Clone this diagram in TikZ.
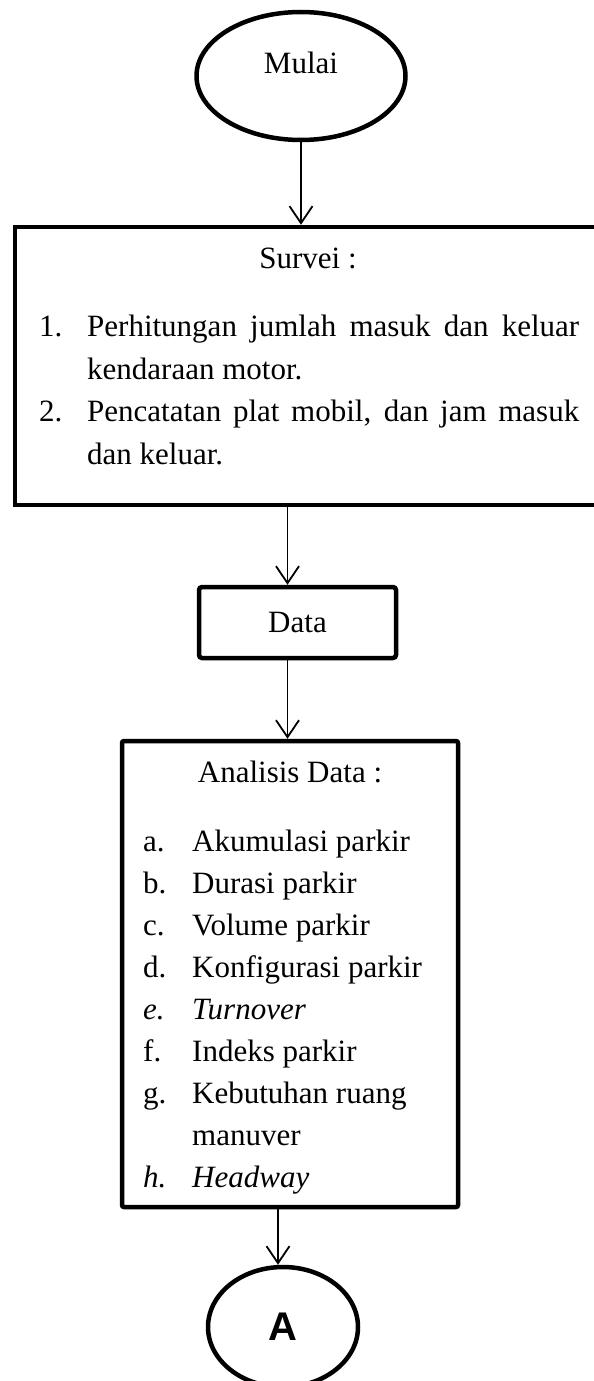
\documentclass[tikz,border=0pt]{standalone}
\usepackage{fontspec}
\setmainfont{Liberation Serif}
\setsansfont{Liberation Sans}
\usepackage{tikz}
\usetikzlibrary{shapes.geometric, arrows.meta, positioning}
\tikzstyle{startstop} = [ellipse, draw=black, line width=4.5pt, inner sep=0pt]
\tikzstyle{process}   = [rectangle, draw=black, line width=4.5pt, inner sep=0pt]
\tikzstyle{arrow}     = [line width=1.8pt, -{Straight Barb[length=17pt, width=23pt, line width=1.8pt]}]
\tikzstyle{title}     = [anchor=base, inner sep=0pt]
\tikzstyle{item}      = [anchor=base west, inner sep=0pt]
\tikzset{every node/.style={font=\fontsize{31pt}{42pt}\selectfont}}

\begin{document}
\begin{tikzpicture}[x=1pt, y=-1pt]
    \clip (0,0) rectangle (594,1381);
    \node (mul) at (301, 76)    [startstop, minimum width=209, minimum height=128, text depth=26pt] {Mulai};
    \node (svy) at (317.5, 366) [process, minimum width=605, minimum height=278] {};
    \node (dat) at (297.5, 622.5) [process, rounded corners=3pt, minimum width=197, minimum height=71] {Data};
    \node (ana) at (290, 974)   [process, rounded corners=2pt, minimum width=336, minimum height=466] {};
    \node (a)   at (283, 1327)  [startstop, minimum width=150, minimum height=120,
                                 font=\fontsize{40pt}{48pt}\selectfont\sffamily\bfseries] {A};

    % survey box text
    \node (svyt) at (308, 268) [title] {Survei :};
    \node (s1)  at (39, 336)  [item] {\makebox[48pt][l]{1.}\makebox[492pt][s]{Perhitungan jumlah masuk dan keluar}};
    \node (s1b) at (87, 379)  [item] {kendaraan motor.};
    \node (s2)  at (39, 421)  [item] {\makebox[48pt][l]{2.}\makebox[492pt][s]{Pencatatan plat mobil, dan jam masuk}};
    \node (s2b) at (87, 464)  [item] {dan keluar.};

    % analysis box text
    \node (anat) at (290, 782) [title] {Analisis Data :};
    \node (la)  at (143, 851)  [item] {\makebox[49pt][l]{a.}Akumulasi parkir};
    \node (lb)  at (143, 893)  [item] {\makebox[49pt][l]{b.}Durasi parkir};
    \node (lc)  at (143, 935)  [item] {\makebox[49pt][l]{c.}Volume parkir};
    \node (ld)  at (143, 977)  [item] {\makebox[49pt][l]{d.}Konfigurasi parkir};
    \node (le)  at (143, 1019) [item] {\itshape\makebox[49pt][l]{e.}Turnover};
    \node (lf)  at (143, 1061) [item] {\makebox[49pt][l]{f.}Indeks parkir};
    \node (lg)  at (143, 1103) [item] {\makebox[49pt][l]{g.}Kebutuhan ruang};
    \node (lgb) at (192, 1145) [item] {manuver};
    \node (lh)  at (143, 1187) [item] {\itshape\makebox[49pt][l]{h.}Headway};

    \draw [arrow] (mul) -- (mul |- svy.north);
    \draw [arrow] ([xshift=-10pt]dat.north |- svy.south) -- ([xshift=-10pt]dat.north);
    \draw [arrow] ([xshift=-10pt]dat.south) -- ([xshift=-10pt]dat.south |- ana.north);
    % into the connector A, a bit left of its centre
    \draw [arrow] ([xshift=-5pt]a.north |- ana.south) -- ([xshift=-5pt]a.north);
\end{tikzpicture}
\end{document}
